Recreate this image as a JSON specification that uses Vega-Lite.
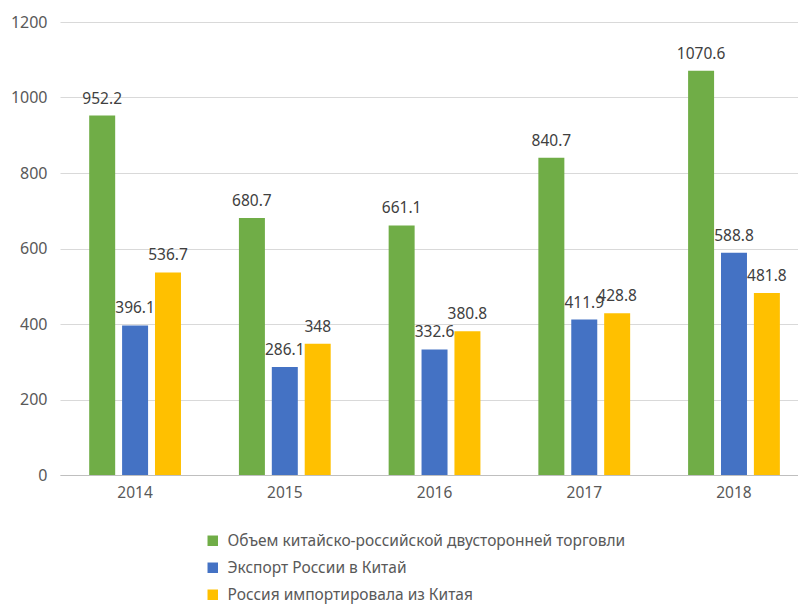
{
  "$schema": "https://vega.github.io/schema/vega-lite/v6.json",
  "width": 738,
  "height": 453,
  "autosize": {"type": "none"},
  "padding": {"left": 60, "top": 22, "right": 0, "bottom": 132},
  "background": "white",
  "config": {
    "view": {"stroke": null},
    "font": "Noto Sans",
    "axis": {"labelFont": "Noto Sans", "labelColor": "#595959", "labelFontSize": 15.5}
  },
  "data": {
    "values": [
      {"year": "2014", "series": "Объем китайско-российской двусторонней торговли", "value": 952.2},
      {"year": "2014", "series": "Экспорт России в Китай", "value": 396.1},
      {"year": "2014", "series": "Россия импортировала из Китая", "value": 536.7},
      {"year": "2015", "series": "Объем китайско-российской двусторонней торговли", "value": 680.7},
      {"year": "2015", "series": "Экспорт России в Китай", "value": 286.1},
      {"year": "2015", "series": "Россия импортировала из Китая", "value": 348},
      {"year": "2016", "series": "Объем китайско-российской двусторонней торговли", "value": 661.1},
      {"year": "2016", "series": "Экспорт России в Китай", "value": 332.6},
      {"year": "2016", "series": "Россия импортировала из Китая", "value": 380.8},
      {"year": "2017", "series": "Объем китайско-российской двусторонней торговли", "value": 840.7},
      {"year": "2017", "series": "Экспорт России в Китай", "value": 411.9},
      {"year": "2017", "series": "Россия импортировала из Китая", "value": 428.8},
      {"year": "2018", "series": "Объем китайско-российской двусторонней торговли", "value": 1070.6},
      {"year": "2018", "series": "Экспорт России в Китай", "value": 588.8},
      {"year": "2018", "series": "Россия импортировала из Китая", "value": 481.8}
    ]
  },
  "encoding": {
    "x": {
      "field": "year", "type": "nominal",
      "scale": {"paddingInner": 0.387, "paddingOuter": 0.158, "align": 0.617},
      "axis": {"title": null, "labelAngle": 0, "ticks": false, "domainColor": "#bfbfbf", "domainWidth": 1, "labelPadding": 10, "grid": false}
    },
    "xOffset": {
      "field": "series", "type": "nominal",
      "sort": ["Объем китайско-российской двусторонней торговли", "Экспорт России в Китай", "Россия импортировала из Китая"],
      "scale": {"paddingInner": 0.21, "paddingOuter": 0}
    },
    "y": {
      "field": "value", "type": "quantitative",
      "scale": {"domain": [0, 1200], "nice": false},
      "axis": {"title": null, "values": [0, 200, 400, 600, 800, 1000, 1200], "format": "d", "domain": false, "ticks": false, "gridColor": "#d9d9d9", "gridWidth": 1, "labelPadding": 13, "labelFontSize": 16}
    }
  },
  "layer": [
    {
      "mark": {"type": "bar"},
      "encoding": {
        "color": {
          "field": "series", "type": "nominal",
          "sort": ["Объем китайско-российской двусторонней торговли", "Экспорт России в Китай", "Россия импортировала из Китая"],
          "scale": {"range": ["#70AD47", "#4472C4", "#FFC000"]},
          "legend": {
            "title": null, "orient": "none", "legendX": 145, "legendY": 511, "direction": "vertical",
            "symbolType": "square", "symbolSize": 110, "symbolStrokeWidth": 0,
            "labelFontSize": 15.5, "labelColor": "#595959", "labelFont": "Noto Sans", "labelLimit": 0,
            "rowPadding": 10, "labelOffset": 7
          }
        }
      }
    },
    {
      "mark": {"type": "text", "baseline": "bottom", "dy": -9, "fontSize": 15.5, "color": "#404040", "font": "Noto Sans"},
      "encoding": {"text": {"field": "value", "type": "quantitative"}}
    }
  ]
}
